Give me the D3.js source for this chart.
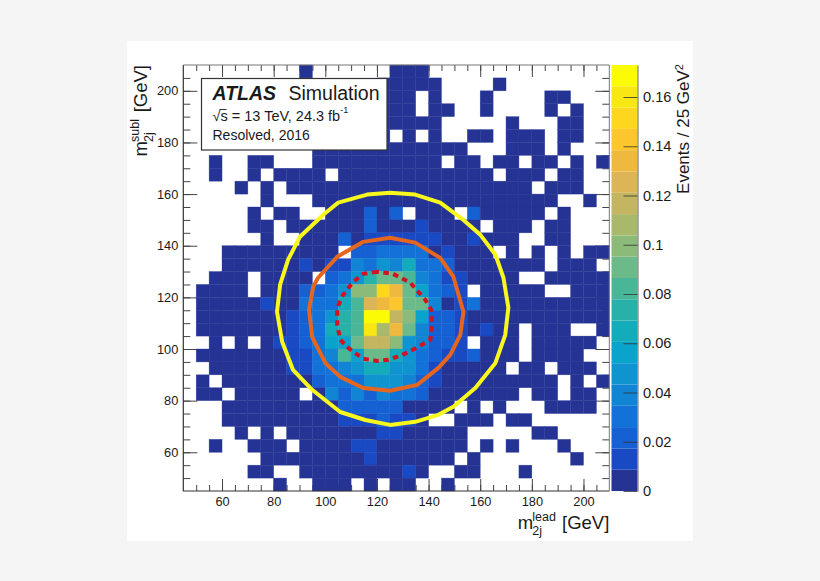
<!DOCTYPE html>
<html>
<head>
<meta charset="utf-8">
<script src="https://cdn.jsdelivr.net/npm/d3@7"></script>
<style>
  html, body { margin: 0; padding: 0; background: #f5f5f5; }
  svg { display: block; }
  text { font-family: "Liberation Sans", Arial, sans-serif; fill: #1a1a1a; }
</style>
</head>
<body>
<svg id="chart" width="820" height="581"></svg>
<script>
// Histogram contents in units of 1e-3 events per bin, top row is the highest m_2j^subl bin.
const binContents = [
  [0,0,0,0,0,0,0,0,0,4, 0,0,0,0,0,0,4,4,4,0, 0,0,0,0,0,0,0,0,0,0, 0,0,0],
  [0,0,0,0,0,0,0,0,0,0, 0,0,0,0,0,4,4,4,4,4, 0,0,0,0,4,0,0,0,0,0, 0,0,0],
  [0,0,0,0,0,0,0,0,0,0, 0,0,0,0,0,4,4,4,0,4, 0,0,0,4,0,0,0,0,4,4, 0,0,0],
  [0,0,0,0,0,0,0,0,0,0, 0,0,0,0,0,4,4,4,0,4, 4,0,0,4,0,0,0,0,4,0, 4,0,0],
  [0,0,0,0,0,0,0,0,0,0, 0,0,0,0,0,4,4,4,4,4, 0,0,0,0,0,4,0,0,0,4, 4,0,0],
  [0,0,0,0,0,0,0,0,0,0, 0,0,0,0,0,4,0,4,0,4, 0,0,4,4,0,4,4,4,0,4, 4,0,0],
  [0,0,0,0,0,0,0,0,0,0, 4,4,4,4,4,4,4,4,4,4, 4,4,0,0,0,4,4,4,0,4, 0,0,0],
  [0,0,4,0,0,4,4,0,0,0, 4,4,4,4,4,4,4,4,4,4, 0,4,4,0,4,4,0,4,4,0, 4,0,4],
  [0,0,4,0,0,4,0,4,4,4, 4,0,4,4,4,4,4,4,4,4, 4,4,4,4,0,4,4,4,0,4, 4,0,0],
  [0,0,0,0,4,0,4,0,4,4, 4,4,4,4,4,4,4,4,4,4, 4,4,4,4,4,4,4,0,4,4, 4,0,0],
  [0,0,0,0,0,0,4,0,0,0, 4,4,4,4,4,4,4,4,4,4, 4,4,4,4,4,4,4,4,4,0, 0,4,0],
  [0,0,0,0,0,4,0,4,4,0, 0,4,4,4,22,4,22,0,4,4, 4,0,22,4,4,4,4,4,0,4, 0,0,0],
  [0,0,0,0,0,4,4,0,4,4, 4,4,4,4,22,4,4,4,13,4, 4,4,4,0,4,4,4,0,4,4, 0,0,0],
  [0,0,0,0,0,0,4,0,0,4, 4,4,22,4,13,13,13,13,13,13, 4,4,13,4,4,4,0,0,4,4, 0,0,0],
  [0,0,0,4,4,4,4,4,4,4, 4,4,0,22,22,31,31,31,31,4, 13,4,4,4,0,4,0,4,0,4, 0,4,4],
  [0,0,0,4,4,4,4,4,4,13, 4,13,13,39,31,48,39,66,31,31, 22,4,4,4,4,4,4,4,0,4, 4,4,0],
  [0,0,4,4,4,0,4,4,4,4, 0,22,31,48,74,92,92,83,39,31, 13,13,4,4,4,4,0,0,4,4, 4,4,4],
  [0,4,4,4,4,0,4,4,4,22, 22,31,48,101,101,153,136,92,57,31, 22,13,0,4,4,4,4,4,0,0, 4,4,4],
  [0,4,4,4,4,4,13,4,4,31, 31,31,66,83,127,136,144,92,92,39, 4,13,31,4,4,4,4,4,4,4, 4,4,4],
  [0,4,4,4,4,4,4,4,13,22, 31,48,74,83,171,171,118,101,57,22, 22,13,4,4,4,4,4,4,4,4, 4,4,4],
  [0,4,4,4,4,4,4,4,13,22, 31,66,74,83,162,109,136,92,39,22, 22,13,4,13,4,4,0,4,4,4, 0,0,4],
  [0,0,4,0,4,0,4,13,13,22, 31,57,57,92,118,118,101,48,39,22, 22,13,0,4,4,4,0,4,4,4, 4,4,0],
  [0,4,4,4,4,4,4,4,13,13, 31,39,83,57,92,92,66,48,31,22, 13,13,22,4,4,4,0,4,4,4, 4,0,0],
  [0,0,4,4,4,4,4,4,13,13, 31,31,39,48,66,66,48,48,31,13, 4,4,4,4,4,0,4,4,0,4, 4,4,0],
  [0,4,0,4,4,4,4,4,4,4, 22,31,31,31,48,48,48,39,22,13, 4,4,4,4,4,4,4,4,4,0, 4,0,4],
  [0,4,4,0,4,4,4,4,4,0, 4,39,22,39,22,39,31,31,22,4, 4,4,4,4,4,4,0,4,4,0, 4,4,0],
  [0,0,0,4,4,4,4,4,4,4, 4,4,22,22,22,22,22,4,4,4, 4,0,4,0,4,0,0,0,4,4, 4,4,0],
  [0,0,0,4,4,4,4,4,4,4, 4,4,13,13,13,22,13,13,4,0, 0,4,4,4,0,4,4,0,0,0, 0,0,0],
  [0,0,0,0,4,0,4,0,4,4, 4,4,4,4,4,13,13,4,4,4, 4,4,0,0,0,0,0,4,4,0, 0,0,0],
  [0,0,4,0,0,4,4,4,0,4, 4,4,4,13,13,4,4,4,4,4, 4,4,0,4,0,4,0,0,0,4, 0,0,0],
  [0,0,0,0,0,0,4,4,4,4, 4,4,4,4,13,4,4,4,4,4, 4,0,4,0,0,0,0,0,0,0, 4,0,0],
  [0,0,0,0,0,4,4,0,0,4, 4,4,4,4,4,4,4,13,4,0, 0,4,4,0,0,0,4,0,0,0, 0,0,0],
  [0,0,0,0,0,0,0,4,0,0, 4,4,4,0,4,0,4,4,0,0, 4,0,0,0,0,0,0,0,0,0, 0,0,0]
];

const binWidth = 5;
const massRange = [45, 210];
const zRange = [0, 0.173];
const xTickValues = [60, 80, 100, 120, 140, 160, 180, 200];
const yTickValues = [60, 80, 100, 120, 140, 160, 180, 200];
const zTickValues = [0, 0.02, 0.04, 0.06, 0.08, 0.1, 0.12, 0.14, 0.16];
const minorTickValues = d3.range(50, 210, 5);

// Twenty colour levels, from the lowest band upward.
const palette = [
  "#253494", "#1a49c4", "#1560d2", "#1272d8", "#1184d4", "#0f94d0", "#0aa3cb", "#14abbb",
  "#28b1a8", "#49b698", "#6cb98a", "#8cba78", "#a8b96c", "#c4b560", "#dbb556", "#efb83e",
  "#fcc62c", "#fdd61e", "#f8e712", "#fbfb06"
];

// Contours of the mass-plane regions, as (lead, subl) vertices in GeV.
const outerRegion = [
  [85.6,134.6],[90.2,143.5],[99.2,152],[105,156.7],[116.2,159.8],[125.1,160.5],[134.8,159.8],
  [144.5,156.7],[153.5,150],[160,144.3],[165.9,136.5],[169,127.6],[170.9,116],[169.7,105.5],
  [165.9,94.6],[158.1,84.9],[149.6,77.6],[143.8,74.5],[134.8,71.8],[125.1,70.6],[115.5,72.5],
  [105.8,75.6],[94.9,84.2],[87.5,91.9],[83.3,102.8],[81.3,114.4],[82.5,124.9]
];
const middleRegion = [
  [97.2,127.6],[104.6,135.7],[114.7,141.5],[125.1,143.1],[134.8,141.2],[144.5,135.3],[149.6,128],
  [153.5,114.4],[152.3,105.5],[148.4,97.7],[143.8,92.7],[135.6,86.1],[125.1,83.8],[114.7,84.9],
  [105.8,89.2],[100,94.6],[94.9,104.7],[93.7,115.2],[95.3,124.1]
];
const signalRegion = [
  [120.1,129.9],[114.7,129.1],[110.8,126],[106.9,121],[104.6,116],[104.6,109.4],[105.8,103.6],
  [108.9,100.4],[114.7,96.2],[120.1,95.4],[124.4,95.8],[129.8,97.7],[136,100.8],[140.7,103.6],
  [141.4,110.1],[141,115.2],[138.7,119.1],[132.9,125.7],[126.3,129.1]
];

const plot = { left: 183.3, right: 609.3, top: 65, bottom: 491 };
const bar = { left: 611.5, right: 637.5 };

const x = d3.scaleLinear().domain(massRange).range([plot.left, plot.right]);
const y = d3.scaleLinear().domain(massRange).range([plot.bottom, plot.top]);
const z = d3.scaleLinear().domain(zRange).range([plot.bottom, plot.top]);
const color = d3.scaleQuantize().domain(zRange).range(palette);

const svg = d3.select("#chart");

// Light canvas behind everything.
svg.append("rect").attr("x", 127).attr("y", 41).attr("width", 566).attr("height", 500).attr("fill", "#fff");

// Tick marks point inward on all four sides and sit under the histogram cells.
const drawTicks = (axisFn, pos, values, size, cls) => {
  const g = svg.append("g")
    .attr("transform", pos)
    .attr("class", cls)
    .call(axisFn.tickValues(values).tickSize(size).tickSizeOuter(0).tickFormat(""));
  g.select(".domain").remove();
  g.selectAll("line").attr("stroke", "#444").attr("stroke-width", 1);
  g.selectAll("text").remove();
};
drawTicks(d3.axisBottom(x), `translate(0,${plot.bottom})`, minorTickValues, -6, "x-minor");
drawTicks(d3.axisBottom(x), `translate(0,${plot.bottom})`, xTickValues, -12, "x-major");
drawTicks(d3.axisTop(x), `translate(0,${plot.top})`, minorTickValues, -6, "x2-minor");
drawTicks(d3.axisTop(x), `translate(0,${plot.top})`, xTickValues, -12, "x2-major");
drawTicks(d3.axisLeft(y), `translate(${plot.left},0)`, minorTickValues, -7, "y-minor");
drawTicks(d3.axisLeft(y), `translate(${plot.left},0)`, yTickValues, -14, "y-major");
drawTicks(d3.axisRight(y), `translate(${plot.right},0)`, minorTickValues, -7, "y2-minor");
drawTicks(d3.axisRight(y), `translate(${plot.right},0)`, yTickValues, -14, "y2-major");

// Histogram cells: empty bins stay white.
const cells = binContents.flatMap((row, r) =>
  row.map((v, c) => ({
    lead: massRange[0] + c * binWidth,
    subl: massRange[1] - r * binWidth,
    value: v / 1000
  }))
).filter(d => d.value > 0);

svg.append("g").attr("class", "cells")
  .selectAll("rect").data(cells).join("rect")
  .attr("x", d => x(d.lead))
  .attr("y", d => y(d.subl))
  .attr("width", d => x(d.lead + binWidth) - x(d.lead))
  .attr("height", d => y(d.subl - binWidth) - y(d.subl))
  .attr("fill", d => color(d.value))
  .attr("stroke", d => color(d.value))
  .attr("stroke-width", 0.5)
  .attr("stroke-opacity", 0.7);

// Frame
svg.append("path")
  .attr("d", `M${plot.left},${plot.top}V${plot.bottom}H${plot.right}`)
  .attr("fill", "none").attr("stroke", "#333").attr("stroke-width", 1.2);
svg.append("path")
  .attr("d", `M${plot.left},${plot.top}H${plot.right}V${plot.bottom}`)
  .attr("fill", "none").attr("stroke", "#777").attr("stroke-width", 1);

// Axis numbers
const xLabels = svg.append("g").attr("transform", `translate(0,${plot.bottom + 4})`)
  .call(d3.axisBottom(x).tickValues(xTickValues).tickSize(0).tickPadding(2));
xLabels.select(".domain").remove();
xLabels.selectAll("text").attr("font-size", 12.8).attr("font-family", "Liberation Sans").attr("fill", "#1a1a1a");

const yLabels = svg.append("g").attr("transform", `translate(${plot.left - 4},0)`)
  .call(d3.axisLeft(y).tickValues(yTickValues).tickSize(0).tickPadding(1));
yLabels.select(".domain").remove();
yLabels.selectAll("text").attr("font-size", 12.8).attr("font-family", "Liberation Sans").attr("fill", "#1a1a1a");

// Region contours
const contour = d3.line().x(d => x(d[0])).y(d => y(d[1])).curve(d3.curveLinearClosed);
svg.append("path").attr("d", contour(outerRegion))
  .attr("fill", "none").attr("stroke", "#f8f81c").attr("stroke-width", 4).attr("stroke-linejoin", "round");
svg.append("path").attr("d", contour(middleRegion))
  .attr("fill", "none").attr("stroke", "#e5661f").attr("stroke-width", 4).attr("stroke-linejoin", "round");
svg.append("path").attr("d", contour(signalRegion))
  .attr("fill", "none").attr("stroke", "#d5101f").attr("stroke-width", 4).attr("stroke-dasharray", "5.5,4.5");

// Colour bar
const bandHeight = (zRange[1] - zRange[0]) / palette.length;
svg.append("g").attr("class", "colorbar")
  .selectAll("rect").data(palette).join("rect")
  .attr("x", bar.left)
  .attr("width", bar.right - bar.left)
  .attr("y", (d, i) => z((i + 1) * bandHeight))
  .attr("height", (d, i) => z(i * bandHeight) - z((i + 1) * bandHeight))
  .attr("fill", d => d);

const zAxis = svg.append("g").attr("transform", `translate(${bar.right},0)`)
  .call(d3.axisRight(z).tickValues(zTickValues).tickSize(0).tickPadding(5.5).tickFormat(d3.format("~g")));
zAxis.select(".domain").attr("stroke", "#666").attr("stroke-width", 1);
zAxis.selectAll("text").attr("font-size", 14.6).attr("font-family", "Liberation Sans").attr("fill", "#1a1a1a");
const zTicks = svg.append("g").attr("transform", `translate(${bar.right},0)`)
  .call(d3.axisRight(z).tickValues(zTickValues).tickSize(-14).tickSizeOuter(0).tickFormat(""));
zTicks.select(".domain").remove();
zTicks.selectAll("line").attr("stroke", "#333").attr("stroke-opacity", 0.8);

// Colour bar title, right aligned against the top of the bar
const zTitle = svg.append("text")
  .attr("transform", `translate(689,${plot.top - 1}) rotate(-90)`)
  .attr("text-anchor", "end")
  .attr("font-size", 17);
zTitle.append("tspan").text("Events / 25 GeV");
zTitle.append("tspan").attr("dy", -6).attr("font-size", 11).text("2");

// Axis titles: m with stacked sub- and superscripts
function massTitle(anchor, upper) {
  const g = svg.append("g").attr("transform", anchor);
  g.append("text").attr("x", -91.5).attr("y", 0).attr("font-size", 18.5).text("m");
  g.append("text").attr("x", -77).attr("y", -8).attr("font-size", 12.5).text(upper);
  g.append("text").attr("x", -77).attr("y", 6).attr("font-size", 12.5).text("2j");
  g.append("text").attr("x", 0).attr("y", 0).attr("text-anchor", "end").attr("font-size", 18.5).text("[GeV]");
}
massTitle(`translate(${plot.right},529)`, "lead");
massTitle(`translate(147,${plot.top}) rotate(-90)`, "subl");

// Information box
const box = svg.append("g");
box.append("rect").attr("x", 201.5).attr("y", 78.5).attr("width", 185.5).attr("height", 71.5)
  .attr("fill", "#fff").attr("stroke", "#333").attr("stroke-width", 1.2);
box.append("text").attr("x", 212.5).attr("y", 100).attr("font-size", 19.5)
  .attr("font-weight", "bold").attr("font-style", "italic").text("ATLAS");
box.append("text").attr("x", 288.5).attr("y", 100).attr("font-size", 19.5).text("Simulation");
box.append("path").attr("d", "M219.5,109.5H226.5").attr("stroke", "#1a1a1a").attr("stroke-width", 0.9);
const energyLine = box.append("text").attr("x", 212.5).attr("y", 121).attr("font-size", 14.5);
energyLine.append("tspan").text("√s = 13 TeV, 24.3 fb");
energyLine.append("tspan").attr("dy", -8).attr("font-size", 9).text("-1");
box.append("text").attr("x", 212.5).attr("y", 140).attr("font-size", 14).text("Resolved, 2016");
</script>
</body>
</html>
